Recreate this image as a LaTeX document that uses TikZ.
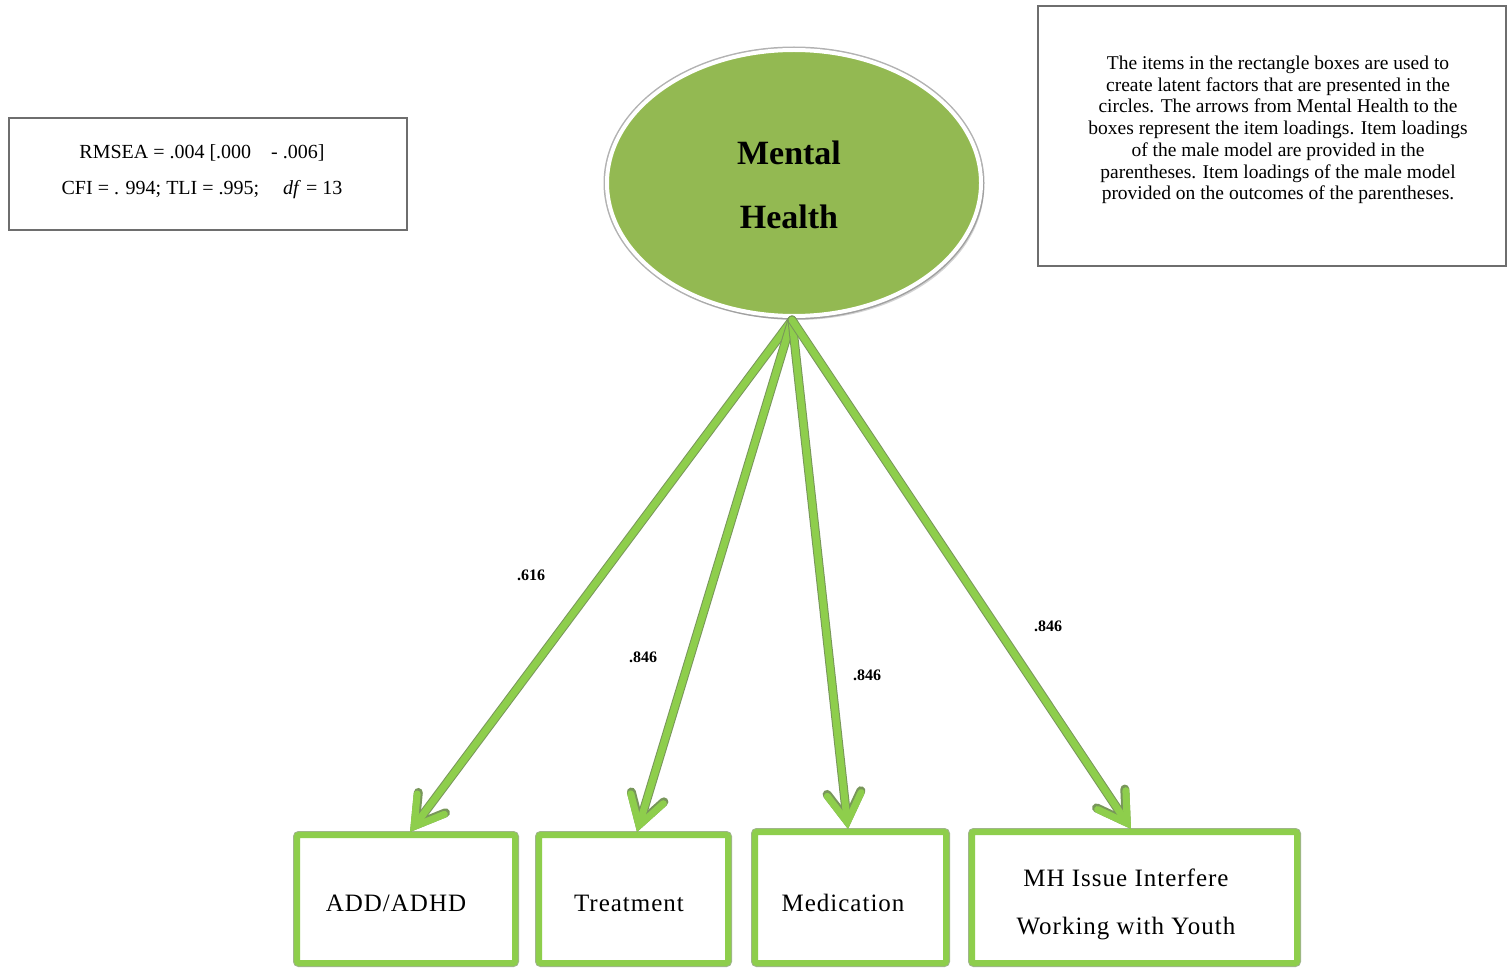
\documentclass[tikz,border=0pt]{standalone}
\usepackage{fontspec}
\setmainfont{Liberation Serif}
\newfontfamily\itemfont[LetterSpace=4]{Liberation Serif}
\usetikzlibrary{shapes.geometric,arrows.meta,shadows}
\definecolor{latentfill}{RGB}{147,185,82}
\definecolor{lime}{RGB}{142,206,76}
\definecolor{limeedge}{RGB}{120,150,90}
\definecolor{frame}{RGB}{110,110,110}
\tikzset{
  latent/.style={ellipse, fill=latentfill, draw=white, line width=4pt,
    minimum width=374pt, minimum height=266pt, inner sep=0pt,
    preaction={draw=gray!60, line width=7pt},
    drop shadow={opacity=0.35, shadow xshift=3pt, shadow yshift=-4pt}},
  itembox/.style={draw=lime, line width=6pt, rounded corners=2pt, fill=white,
    preaction={draw=limeedge!70, line width=8pt},
    anchor=north west},
  itemlabel/.style={font=\itemfont\fontsize{25}{48}\selectfont, align=center},
  infobox/.style={draw=frame, line width=2pt, fill=white},
  loading/.style={draw=lime, line width=7pt, line cap=round,
    preaction={draw=limeedge, line width=9pt, line cap=round},
    -{Straight Barb[length=28pt, width=34pt, line cap=round]}},
  coef/.style={font=\fontsize{16}{18}\selectfont\bfseries},
}
\begin{document}
\begin{tikzpicture}[x=1pt, y=-1pt]
\useasboundingbox (0,0) rectangle (1509,968);

% fit statistics
\node[infobox, minimum width=398pt, minimum height=112pt, anchor=north west] (fit) at (8,117) {};
\node[font=\fontsize{20}{36}\selectfont, align=center] (fittext) at (202,172)
  {RMSEA = .004 [.000\hspace{20pt}- .006]\\CFI = . 994; TLI = .995;\hspace{24pt}\textit{df} = 13};

% explanatory note
\node[infobox, minimum width=468pt, minimum height=260pt, anchor=north west] (note) at (1037,5) {};
\node[font=\fontsize{19.5}{21.7}\selectfont, align=center] (notetext) at (1278,130)
  {The items in the rectangle boxes are used to\\
   create latent factors that are presented in the\\
   circles. The arrows from Mental Health to the\\
   boxes represent the item loadings. Item loadings\\
   of the male model are provided in the\\
   parentheses. Item loadings of the male model\\
   provided on the outcomes of the parentheses.};

% latent factor
\node[latent] (mh) at (794,183) {};
\node[font=\fontsize{34}{64}\selectfont\bfseries, align=center] (mhtext) at (789,185) {Mental\\Health};

% observed items
\node[itembox, minimum width=218pt, minimum height=128pt] (add) at (294,832) {};
\node[itemlabel] (addtext) at (396,903) {ADD/ADHD};
\node[itembox, minimum width=189pt, minimum height=128pt] (treat) at (536,832) {};
\node[itemlabel] (treattext) at (629,903) {Treatment};
\node[itembox, minimum width=191pt, minimum height=131pt] (med) at (752,829) {};
\node[itemlabel] (medtext) at (843,903) {Medication};
\node[itembox, minimum width=325pt, minimum height=131pt] (mhi) at (969,829) {};
\node[itemlabel] (mhitext) at (1126,904) {MH Issue Interfere\\Working with Youth};

% loadings
\coordinate (src) at (792,320);
\draw[loading] (src) -- ([xshift=4pt]add.north);
\draw[loading] (src) -- ([xshift=3.5pt]treat.north);
\draw[loading] (src) -- ([xshift=-2.5pt]med.north);
\draw[loading] (src) -- ([xshift=-3.5pt]mhi.north);

\node[coef] (l1) at (531,575) {.616};
\node[coef] (l2) at (643,657) {.846};
\node[coef] (l3) at (867,675) {.846};
\node[coef] (l4) at (1048,626) {.846};
\end{tikzpicture}
\end{document}
